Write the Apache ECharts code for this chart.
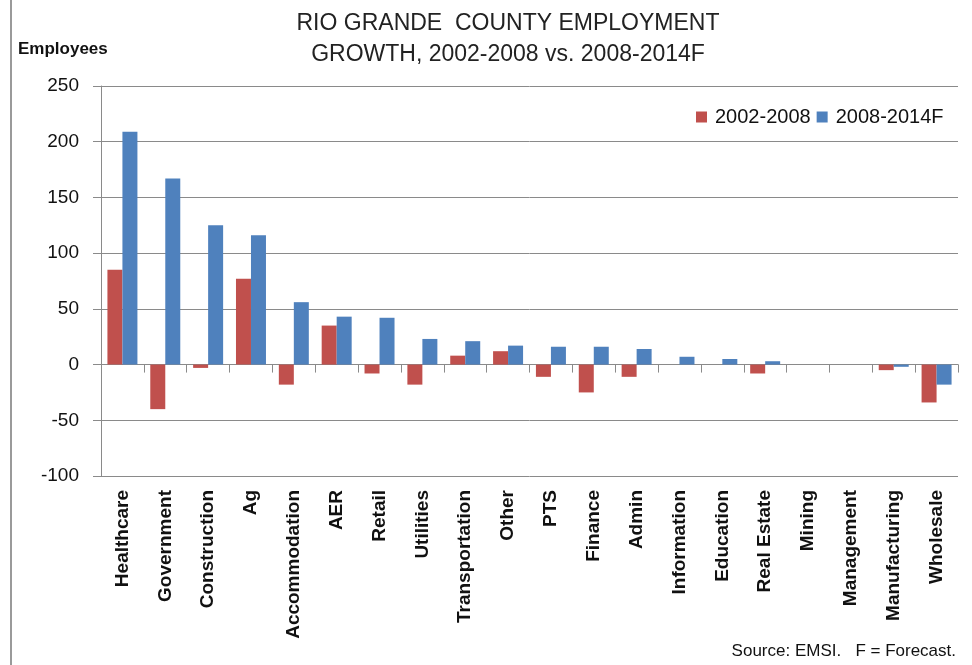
<!DOCTYPE html>
<html>
<head>
<meta charset="utf-8">
<script src="https://cdn.jsdelivr.net/npm/echarts@6/dist/echarts.min.js"></script>
<style>
html,body{margin:0;padding:0;background:#fff;}
#chart{width:972px;height:665px;}
</style>
</head>
<body>
<div id="chart"></div>
<script>
var categories = ["Healthcare","Government","Construction","Ag","Accommodation","AER","Retail","Utilities","Transportation","Other","PTS","Finance","Admin","Information","Education","Real Estate","Mining","Management","Manufacturing","Wholesale"];
var growth2002_2008 = [85, -40, -3, 77, -18, 35, -8, -18, 8, 12, -11, -25, -11, 0, 0, -8, 0, 0, -5, -34];
var growth2008_2014F = [209, 167, 125, 116, 56, 43, 42, 23, 21, 17, 16, 16, 14, 7, 5, 3, 0, 0, -2, -18];
var seriesNames = ["2002-2008", "2008-2014F"];
var yMin = -100, yMax = 250, yStep = 50;

var FONT = "'Liberation Sans', Arial, sans-serif";
var chart = echarts.init(document.getElementById('chart'), null, {renderer: 'canvas'});
chart.setOption({
  backgroundColor: '#ffffff',
  animation: false,
  title: {
    text: 'RIO GRANDE  COUNTY EMPLOYMENT\nGROWTH, 2002-2008 vs. 2008-2014F',
    left: 503,
    top: 3,
    textAlign: 'center',
    textStyle: {fontFamily: FONT, fontSize: 23, fontWeight: 'normal', color: '#222', lineHeight: 31}
  },
  legend: {
    data: seriesNames,
    left: 691,
    top: 102,
    itemWidth: 11,
    itemHeight: 11,
    itemGap: 6,
    icon: 'rect',
    textStyle: {fontFamily: FONT, fontSize: 20, color: '#111', padding: [0, 0, 0, 3]}
  },
  grid: {left: 101, right: 14, top: 86, bottom: 189, containLabel: false},
  xAxis: [
    {
      type: 'category',
      data: categories,
      position: 'bottom',
      axisLine: {show: false, onZero: false},
      axisTick: {show: false},
      axisLabel: {rotate: 90, interval: 0, margin: 14, fontFamily: FONT, fontSize: 19, fontWeight: 'bold', color: '#111'},
      splitLine: {show: false}
    },
    {
      type: 'category',
      data: categories,
      position: 'bottom',
      axisLine: {show: true, onZero: true, lineStyle: {color: '#8a8a8a', width: 1}},
      axisTick: {show: true, interval: 0, length: 8, lineStyle: {color: '#8a8a8a'}},
      axisLabel: {show: false, interval: 0},
      splitLine: {show: false}
    }
  ],
  yAxis: {
    type: 'value',
    min: yMin,
    max: yMax,
    interval: yStep,
    axisLine: {show: true, lineStyle: {color: '#8a8a8a', width: 1}},
    axisTick: {show: true, length: 8, lineStyle: {color: '#8a8a8a'}},
    axisLabel: {margin: 22, fontFamily: FONT, fontSize: 19, color: '#111'},
    splitLine: {show: true, lineStyle: {color: '#8a8a8a', width: 1}}
  },
  series: [
    {
      name: seriesNames[0], type: 'bar', xAxisIndex: 0, data: growth2002_2008,
      barGap: '0%', barCategoryGap: '30%',
      itemStyle: {color: '#C0504D'}
    },
    {
      name: seriesNames[1], type: 'bar', xAxisIndex: 0, data: growth2008_2014F,
      barGap: '0%', barCategoryGap: '30%',
      itemStyle: {color: '#4F81BD'}
    }
  ],
  graphic: [
    {type: 'line', shape: {x1: 11, y1: 0, x2: 11, y2: 665}, style: {stroke: '#9a9a9a', lineWidth: 2}},
    {type: 'text', left: 18, top: 41, style: {text: 'Employees', font: 'bold 17px ' + FONT, fill: '#111'}},
    {type: 'text', right: 16, top: 643, style: {text: 'Source: EMSI.   F = Forecast.', font: '17px ' + FONT, fill: '#111'}}
  ]
});
</script>
</body>
</html>
